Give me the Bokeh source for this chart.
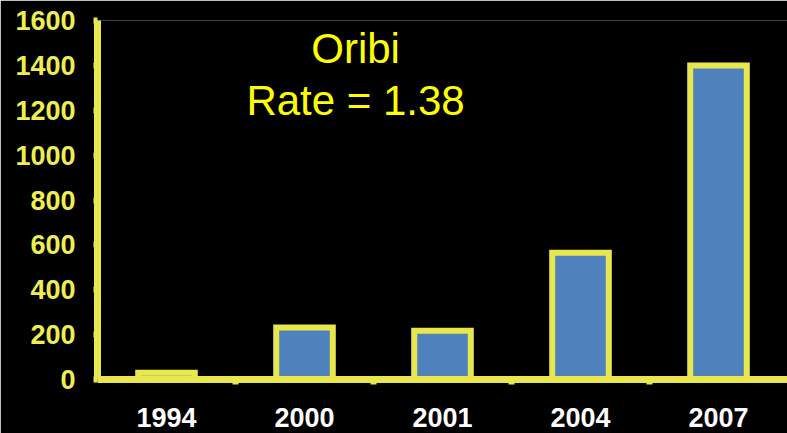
from bokeh.plotting import figure
from bokeh.models import ColumnDataSource, FixedTicker, Label, Range1d
from bokeh.embed import file_html
from bokeh.resources import INLINE

years = ["1994", "2000", "2001", "2004", "2007"]
counts = [30, 232, 217, 565, 1400]
y_ticks = [0, 200, 400, 600, 800, 1000, 1200, 1400, 1600]
title_lines = ["Oribi", "Rate = 1.38"]

YEL = "#E8E84E"
BLUE = "#4F81BD"

xs = [i + 0.5 for i in range(len(years))]
src = ColumnDataSource(data=dict(x=xs, top=counts, year=years))

p = figure(width=787, height=433, output_backend="svg", toolbar_location=None,
           x_range=Range1d(0, len(years)), y_range=Range1d(0, 1600),
           min_border_left=97, min_border_right=0, min_border_top=20, min_border_bottom=54)
p.background_fill_color = "black"
p.border_fill_color = "black"
p.outline_line_color = None
p.xgrid.visible = False
p.ygrid.visible = False

p.vbar(x="x", top="top", width=0.41, bottom=0, source=src,
       fill_color=BLUE, line_color=YEL, line_width=6, line_join="miter")

# y axis
ya = p.yaxis[0]
ya.ticker = FixedTicker(ticks=y_ticks)
ya.axis_line_color = YEL
ya.axis_line_width = 7
ya.major_tick_line_color = YEL
ya.major_tick_line_width = 6
ya.major_tick_out = 4
ya.major_tick_in = 0
ya.minor_tick_line_color = None
ya.major_label_text_color = "#EEEE50"
ya.major_label_text_font = "Liberation Sans"
ya.major_label_text_font_style = "bold"
ya.major_label_text_font_size = "27px"
ya.major_label_standoff = 18

# x axis
xa = p.xaxis[0]
xa.ticker = FixedTicker(ticks=xs, minor_ticks=list(range(1, len(years))))
xa.major_label_overrides = {x: y for x, y in zip(xs, years)}
xa.axis_line_color = YEL
xa.axis_line_width = 7
xa.major_tick_line_color = None
xa.major_tick_out = 0
xa.major_tick_in = 0
xa.minor_tick_line_color = YEL
xa.minor_tick_line_width = 6
xa.minor_tick_out = 5
xa.minor_tick_in = 0
xa.major_label_text_color = "white"
xa.major_label_text_font = "Liberation Sans"
xa.major_label_text_font_style = "bold"
xa.major_label_text_font_size = "27px"
xa.major_label_standoff = 23

for txt, yv in zip(title_lines, [1476, 1244]):
    p.add_layout(Label(x=1.87, y=yv, text=txt, text_align="center", text_baseline="middle",
                       text_color="#FFFF00", text_font="Liberation Sans",
                       text_font_size="42px"))

open("out.html", "w").write(file_html(p, INLINE))
